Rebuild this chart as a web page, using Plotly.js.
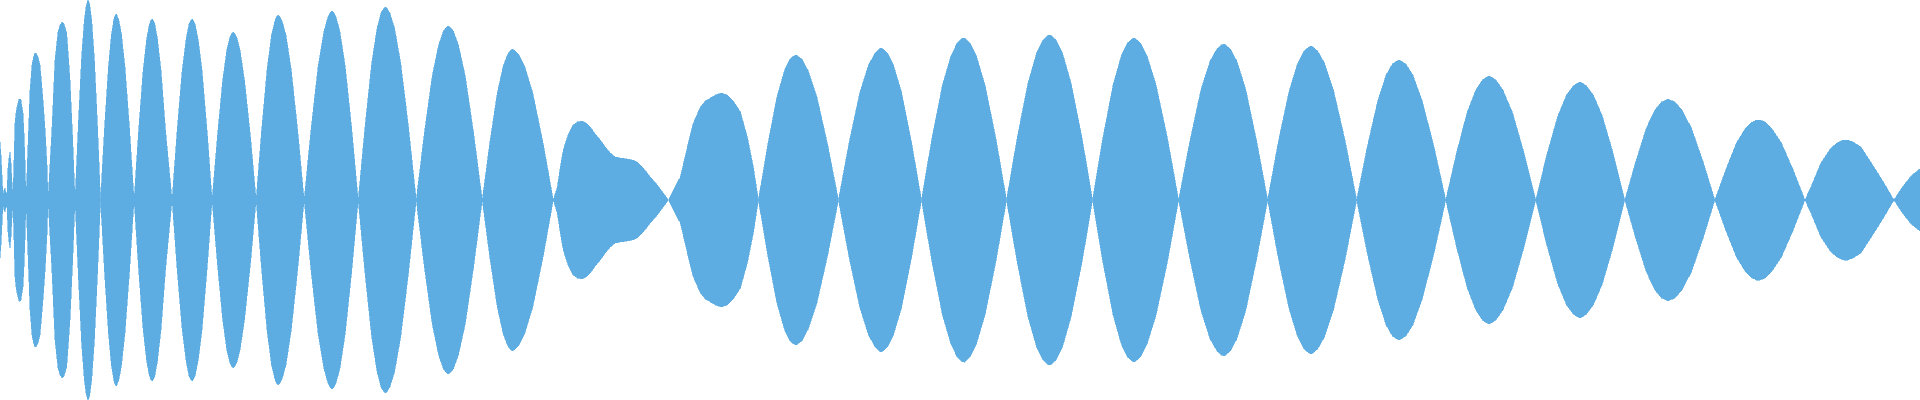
<!DOCTYPE html>
<html>
<head>
<meta charset="utf-8">
<script src="https://cdn.plot.ly/plotly-3.0.1.min.js"></script>
<style>
html,body{margin:0;padding:0;background:#fff;}
#chart{width:1920px;height:400px;}
#chart path{shape-rendering:crispEdges !important;}
</style>
</head>
<body>
<div id="chart"></div>
<script>
// Waveform envelope: sample position (px along time axis) and peak amplitude (symmetric about 0)
const sampleX = [
  0,1,2,3,4,5,6,7,8,9,10,11,12,13,14,15,16,17,19,20,21,22,23,24,25,26,
  28,30,32,33.5,35,36.5,38,40,43,45,47,48,
  51.7,55,58,60,62,64,66.7,70,72.7,75,
  78.3,81.5,84.1,86.1,87.4,88,88.6,89.9,91.8,94.3,97.4,100.5,
  104.4,108.3,111.4,113.7,115.2,116,116.9,118.7,121.4,125,129.5,134,
  138.5,143,146.6,149.3,151.1,152,152.9,154.7,157.4,161,165.5,172,
  177,182,186,189,191,192,193,195,198,202,207,212,
  217.3,222.5,226.7,229.9,232,233,234.2,236.5,239.9,244.5,250.3,256,
  261.5,267,271.4,274.7,276.9,278,279.3,281.9,285.8,291,297.5,304,
  311,318,323.6,327.8,330.6,332,333.3,335.9,339.8,345,351.5,358,
  364.8,371.5,376.9,380.9,383.7,385,386.6,389.7,394.3,400.5,408.3,416,
  424,432,438.4,443.2,446.4,448,449.7,453.1,458.2,465,473.5,482,
  489.5,497,503,507.5,510.5,512,514.1,518.2,524.3,532.5,542.8,553,
  557,560,563,567,570,573,577,582,586,590,595,600,605,610,615,620,627,632,637,643,650,657,663,668,
  673,680,687,693,700,705,710,715,721,727,733,740,747,753,758,
  767.3,776.5,783.9,789.5,793.2,795,797.2,801.5,807.9,816.5,827.3,838,
  848.8,859.5,868.1,874.6,878.9,881,883,887,893,901,911,921,
  931.5,942,950.4,956.7,960.9,963,965.2,969.5,975.9,984.5,995.3,1006,
  1016.8,1027.5,1036.1,1042.6,1046.9,1049,1051.2,1055.5,1061.9,1070.5,1081.3,1092,
  1102.3,1112.5,1120.7,1126.9,1131,1133,1135.3,1139.8,1146.5,1155.5,1166.8,1178,
  1189.3,1200.5,1209.5,1216.3,1220.8,1223,1225.2,1229.6,1236.2,1245,1256,1267,
  1277.8,1288.5,1297.1,1303.6,1307.9,1310,1312.3,1316.9,1323.8,1333,1344.5,1356,
  1366.5,1377,1385.4,1391.7,1395.9,1398,1400.4,1405.1,1412.1,1421.5,1433.3,1445,
  1455.8,1466.5,1475.1,1481.6,1485.9,1488,1490.4,1495.1,1502.1,1511.5,1523.3,1535,
  1546,1557,1565.8,1572.4,1576.8,1579,1581.3,1585.8,1592.5,1601.5,1612.8,1624,
  1634.8,1645.5,1654.1,1660.6,1664.9,1667,1669.4,1674.1,1681.1,1690.5,1702.3,1714,
  1724.8,1735.5,1744.1,1750.6,1754.9,1757,1759.4,1764.1,1771.1,1780.5,1792.3,1804,
  1810,1820,1830,1836,1840,1843,1847,1852,1860,1873,1883,1893,
  1900,1910,1920
];
const amplitude = [
  58,45,25,4,10,12,6,8,32,42,48,37,18,4,40,77,87,93,101,101,100,93,87,67,40,0,
  55,110,135,143,147,146,143,135,100,72,35,0,
  67,140,168,175,178,176,167,120,60,0,
  76,142,178,194,199,200,199,194,178,142,76,0,
  71,132,166,180,185,186,185,180,166,132,71,0,
  69,129,161,176,180,181,180,176,161,129,69,0,
  69,129,161,176,180,181,180,176,161,129,69,0,
  64,119,150,163,167,168,167,163,150,119,64,0,
  70,131,165,179,184,185,184,179,165,131,70,0,
  72,134,168,183,188,189,188,183,168,134,72,0,
  73,137,172,187,192,193,192,187,172,137,73,0,
  66,124,155,169,173,174,173,169,155,124,66,0,
  57,107,134,146,150,151,150,146,134,107,57,0,
  13,33,50,63,70,75,78,79,77,73,66,60,53,47,43,42,41,40,38,32,23,15,7,0,
  10,23,53,77,93,99,102,105,107,105,99,88,63,33,0,
  55,103,129,141,144,145,144,141,129,103,55,0,
  58,108,135,147,151,152,151,147,135,108,58,0,
  62,115,144,157,161,162,161,157,144,115,62,0,
  63,117,147,160,164,165,164,160,147,117,63,0,
  62,115,144,157,161,162,161,157,144,115,62,0,
  59,111,139,151,155,156,155,151,139,111,59,0,
  59,109,137,149,153,154,153,149,137,109,59,0,
  53,99,125,136,139,140,139,136,125,99,53,0,
  47,88,110,120,123,124,123,120,110,88,47,0,
  45,84,105,114,117,118,117,114,105,84,45,0,
  38,72,90,98,100,101,100,98,90,72,38,0,
  30,57,71,78,80,80,80,78,71,57,30,0,
  13,37,52,57,59,60,60,58,53,33,17,0,
  11,24,32
];
const fillColor = '#5DADE2';

// closed outline: upper envelope left->right, mirrored lower envelope right->left
const outlineX = sampleX.concat(sampleX.slice().reverse());
const outlineY = amplitude.concat(amplitude.slice().reverse().map(v => -v));

const wave = {
  x: outlineX, y: outlineY, type: 'scatter', mode: 'lines',
  fill: 'toself', fillcolor: fillColor,
  line: {width: 0.6, color: fillColor, shape: 'linear', simplify: false},
  hoverinfo: 'skip', showlegend: false
};

const layout = {
  width: 1920, height: 400,
  margin: {l: 0, r: 0, t: 0, b: 0, pad: 0},
  paper_bgcolor: '#ffffff', plot_bgcolor: '#ffffff',
  showlegend: false,
  xaxis: {range: [0, 1919], visible: false, showgrid: false, zeroline: false, fixedrange: true},
  yaxis: {range: [-200, 200], visible: false, showgrid: false, zeroline: false, fixedrange: true}
};

Plotly.newPlot('chart', [wave], layout, {staticPlot: true, displayModeBar: false});
</script>
</body>
</html>
